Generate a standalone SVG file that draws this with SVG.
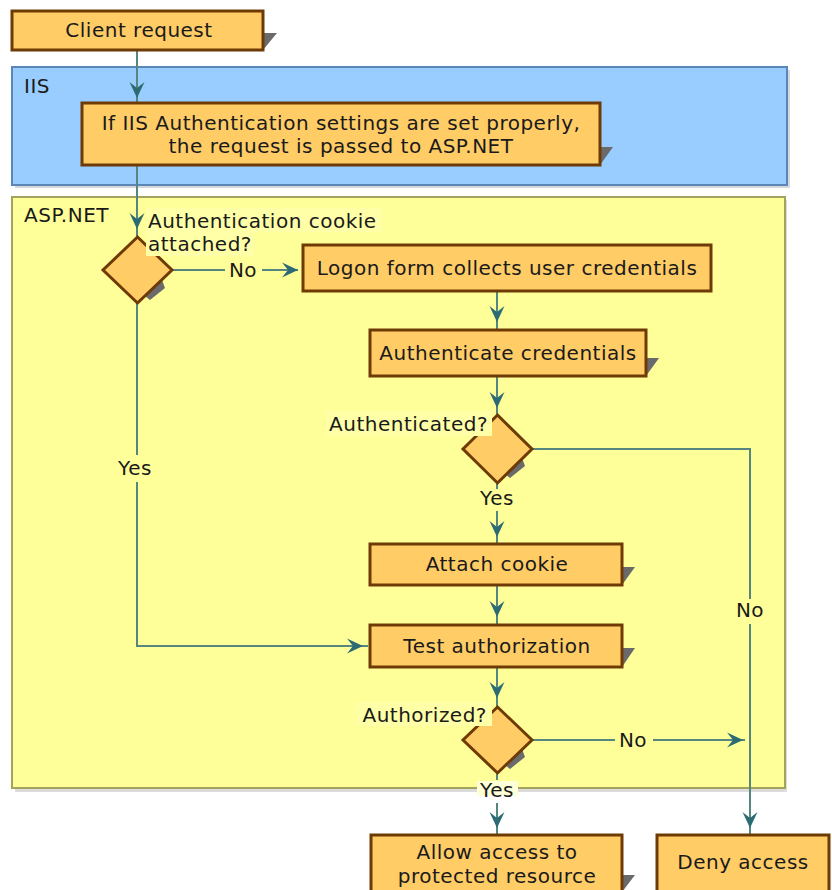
<svg xmlns="http://www.w3.org/2000/svg" width="832" height="890" viewBox="0 0 832 890">
<style>
text{font-family:"DejaVu Sans","Liberation Sans",sans-serif;font-size:20px;letter-spacing:0.5px;fill:#1a1a1a}
.c{text-anchor:middle}
.e{text-anchor:end}
.box{fill:#ffcc66;stroke:#6e3a05;stroke-width:3}
.sh{fill:#6a6a6a}
.ln{fill:none;stroke:#55867f;stroke-width:2}
.ah{fill:#2c6b74}
</style>
<defs>
<path id="ah" d="M0,0 L-16,-7.5 L-10,0 L-16,7.5 z"/>
</defs>
<g id="panel-iis">
<rect x="15" y="70" width="775" height="118" fill="#d8d8d8"/>
<rect x="12" y="67" width="775" height="118" fill="#99ccff" stroke="#5b86b8" stroke-width="2"/>
<text x="24" y="93">IIS</text>
</g>
<g id="panel-aspnet">
<rect x="15" y="200" width="772" height="592" fill="#dcdcdc"/>
<rect x="12" y="197" width="773" height="591" fill="#ffff99" stroke="#a3a35c" stroke-width="2"/>
<text x="24" y="222">ASP.NET</text>
</g>
<g id="connectors">
<path class="ln" d="M137,50 V103"/>
<use href="#ah" class="ah" transform="translate(137,98) rotate(90)"/>
<path class="ln" d="M137,165 V237"/>
<use href="#ah" class="ah" transform="translate(137,229) rotate(90)"/>
<path class="ln" d="M172,270 H225 M262,270 H298"/>
<use href="#ah" class="ah" transform="translate(298,270)"/>
<text class="c" x="243" y="277">No</text>
<path class="ln" d="M497,291 V330"/>
<use href="#ah" class="ah" transform="translate(497,322) rotate(90)"/>
<path class="ln" d="M497,376 V415"/>
<use href="#ah" class="ah" transform="translate(497,408) rotate(90)"/>
<path class="ln" d="M497,483 V489 M497,511 V544"/>
<use href="#ah" class="ah" transform="translate(497,537) rotate(90)"/>
<text class="c" x="497" y="505">Yes</text>
<path class="ln" d="M497,585 V625"/>
<use href="#ah" class="ah" transform="translate(497,617) rotate(90)"/>
<path class="ln" d="M137,303 V455 M137,482 V646 H368"/>
<use href="#ah" class="ah" transform="translate(363,646)"/>
<text class="c" x="135" y="475">Yes</text>
<path class="ln" d="M497,667 V707"/>
<use href="#ah" class="ah" transform="translate(497,698) rotate(90)"/>
<path class="ln" d="M532,740 H615 M653,740 H745"/>
<use href="#ah" class="ah" transform="translate(743,740)"/>
<text class="c" x="633" y="747">No</text>
<path class="ln" d="M508,449 H750 V599 M750,624 V835"/>
<use href="#ah" class="ah" transform="translate(750,828) rotate(90)"/>
<text class="c" x="750" y="617">No</text>
<path class="ln" d="M497,773 V780 M497,803 V835"/>
<use href="#ah" class="ah" transform="translate(497,828) rotate(90)"/>
<rect x="477" y="781" width="41" height="15" fill="#ffffd8"/>
<text class="c" x="497" y="797">Yes</text>
</g>
<g id="client-request">
<polygon class="sh" points="263,33 277,33 263,50"/>
<rect class="box" x="12" y="11" width="251" height="39"/>
<text class="c" x="139" y="37">Client request</text>
</g>
<g id="iis-check">
<polygon class="sh" points="600,147 613,147 600,165"/>
<rect class="box" x="82" y="103" width="518" height="62"/>
<text class="c" x="341" y="130">If IIS Authentication settings are set properly,</text>
<text class="c" x="341" y="153">the request is passed to ASP.NET</text>
</g>
<g id="cookie-decision">
<polygon class="sh" points="145,296 162,280 165,288 150,300"/>
<polygon class="box" points="137.5,237 172,270 137.5,303 103,270"/>
<rect x="146" y="208" width="236" height="24" fill="#ffffa8"/>
<rect x="146" y="231" width="108" height="25" fill="#ffffa8"/>
<text x="148" y="228">Authentication cookie</text>
<text x="148" y="251">attached?</text>
</g>
<g id="logon-form">
<rect class="box" x="303" y="245" width="408" height="46"/>
<text class="c" x="507" y="275">Logon form collects user credentials</text>
</g>
<g id="authenticate-credentials">
<polygon class="sh" points="646,358 659,358 646,376"/>
<rect class="box" x="370" y="330" width="276" height="46"/>
<text class="c" x="508" y="360">Authenticate credentials</text>
</g>
<g id="authenticated-decision">
<polygon class="sh" points="505,474 522,458 525,466 510,478"/>
<polygon class="box" points="497.5,415 532,449 497.5,483 463,449"/>
<rect x="326" y="411" width="166" height="25" fill="#ffffa8"/>
<text class="e" x="488" y="431">Authenticated?</text>
</g>
<g id="attach-cookie">
<polygon class="sh" points="622,567 635,567 622,585"/>
<rect class="box" x="370" y="544" width="252" height="41"/>
<text class="c" x="497" y="571">Attach cookie</text>
</g>
<g id="test-authorization">
<polygon class="sh" points="622,648 635,648 622,667"/>
<rect class="box" x="370" y="625" width="252" height="42"/>
<text class="c" x="497" y="653">Test authorization</text>
</g>
<g id="authorized-decision">
<polygon class="sh" points="505,765 522,749 525,757 510,769"/>
<polygon class="box" points="497.5,707 532,740 497.5,773 463,740"/>
<rect x="356" y="702" width="136" height="24" fill="#ffffa8"/>
<text class="e" x="487" y="722">Authorized?</text>
</g>
<g id="allow-access">
<polygon class="sh" points="622,875 635,875 622,892"/>
<rect class="box" x="371" y="835" width="251" height="70"/>
<text class="c" x="497" y="859">Allow access to</text>
<text class="c" x="497" y="883">protected resource</text>
</g>
<g id="deny-access">
<rect class="box" x="657" y="835" width="172" height="70"/>
<text class="c" x="743" y="869">Deny access</text>
</g>
</svg>
